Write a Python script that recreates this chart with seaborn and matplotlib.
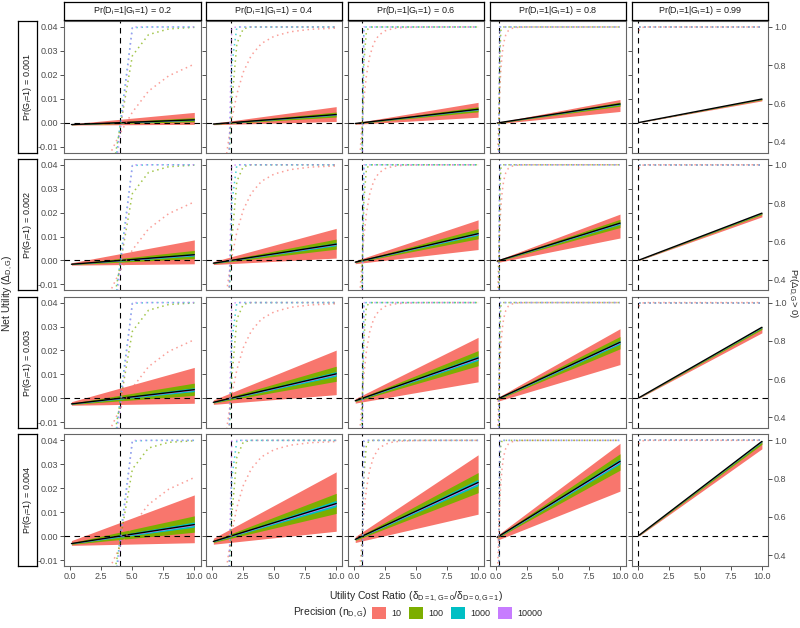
import matplotlib
matplotlib.use("Agg")
import matplotlib.pyplot as plt
from matplotlib.patches import Patch
import pandas as pd
import seaborn as sns

# facets
prevalence = [0.001, 0.002, 0.003, 0.004]          # rows: Pr(G=1)
sensitivity = [0.2, 0.4, 0.6, 0.8, 0.99]           # cols: Pr(D=1|G=1)
thresholds = [4.0, 1.5, 0.667, 0.25, 0.0101]       # break-even cost ratio per column
precisions = ["10", "100", "1000", "10000"]
colors = ["#F8766D", "#7CAE00", "#00BFC4", "#C77CFF"]

# utility cost ratio grid of the dotted curves
ratio = [0.1, 0.126, 0.158, 0.2, 0.251, 0.316, 0.398, 0.501, 0.631, 0.794, 1.0,
         1.259, 1.585, 1.995, 2.512, 3.162, 3.981, 5.012, 6.31, 7.943, 10.0]

# Pr(net utility > 0) (same in every row of a column)
prob_pos = {
    0.2: {
        "10": [0, 0, 0, 0, 0, 0, 0, 0, 0.001, 0.005, 0.02, 0.04, 0.08, 0.14, 0.22, 0.33, 0.44, 0.555, 0.665, 0.745, 0.806],
        "100": [0, 0, 0, 0, 0, 0, 0, 0, 0, 0, 0, 0, 0, 0, 0.02, 0.16, 0.46, 0.85, 0.96, 0.99, 0.998],
        "1000": [0, 0, 0, 0, 0, 0, 0, 0, 0, 0, 0, 0, 0, 0, 0, 0.001, 0.47, 0.996, 1, 1, 1],
        "10000": [0, 0, 0, 0, 0, 0, 0, 0, 0, 0, 0, 0, 0, 0, 0, 0, 0.42, 1, 1, 1, 1],
    },
    0.4: {
        "10": [0, 0, 0, 0.001, 0.003, 0.008, 0.02, 0.043, 0.085, 0.155, 0.254, 0.378, 0.516, 0.649, 0.764, 0.852, 0.914, 0.952, 0.975, 0.988, 0.994],
        "100": [0, 0, 0, 0, 0, 0, 0, 0, 0, 0.001, 0.02, 0.19, 0.605, 0.913, 0.991, 1, 1, 1, 1, 1, 1],
        "1000": [0, 0, 0, 0, 0, 0, 0, 0, 0, 0, 0, 0.003, 0.80, 1, 1, 1, 1, 1, 1, 1, 1],
        "10000": [0, 0, 0, 0, 0, 0, 0, 0, 0, 0, 0, 0, 0.996, 1, 1, 1, 1, 1, 1, 1, 1],
    },
    0.6: {
        "10": [0.006, 0.012, 0.025, 0.048, 0.086, 0.148, 0.236, 0.351, 0.484, 0.622, 0.746, 0.845, 0.915, 0.957, 0.98, 0.992, 0.997, 0.999, 1, 1, 1],
        "100": [0, 0, 0, 0, 0, 0, 0.009, 0.087, 0.395, 0.81, 0.98, 0.999, 1, 1, 1, 1, 1, 1, 1, 1, 1],
        "1000": [0, 0, 0, 0, 0, 0, 0, 0, 0.20, 0.997, 1, 1, 1, 1, 1, 1, 1, 1, 1, 1, 1],
        "10000": [0, 0, 0, 0, 0, 0, 0, 0, 0.004, 1, 1, 1, 1, 1, 1, 1, 1, 1, 1, 1, 1],
    },
    0.8: {
        "10": [0.194, 0.267, 0.354, 0.456, 0.566, 0.676, 0.776, 0.858, 0.918, 0.958, 0.981, 0.992, 0.997, 0.999, 1, 1, 1, 1, 1, 1, 1],
        "100": [0.002, 0.01, 0.045, 0.18, 0.53, 0.84, 0.98, 0.999, 1, 1, 1, 1, 1, 1, 1, 1, 1, 1, 1, 1, 1],
        "1000": [0, 0, 0, 0.004, 0.525, 1, 1, 1, 1, 1, 1, 1, 1, 1, 1, 1, 1, 1, 1, 1, 1],
        "10000": [0, 0, 0, 0, 0.58, 1, 1, 1, 1, 1, 1, 1, 1, 1, 1, 1, 1, 1, 1, 1, 1],
    },
    0.99: {
        "10": [0.98, 0.985, 0.99, 0.993, 0.995, 0.997, 0.998, 0.999, 1, 1, 1, 1, 1, 1, 1, 1, 1, 1, 1, 1, 1],
        "100": [1, 1, 1, 1, 1, 1, 1, 1, 1, 1, 1, 1, 1, 1, 1, 1, 1, 1, 1, 1, 1],
        "1000": [1, 1, 1, 1, 1, 1, 1, 1, 1, 1, 1, 1, 1, 1, 1, 1, 1, 1, 1, 1, 1],
        "10000": [1, 1, 1, 1, 1, 1, 1, 1, 1, 1, 1, 1, 1, 1, 1, 1, 1, 1, 1, 1, 1],
    },
}

# 95% bands of Pr(D=1|G=1) behind the ribbons, one value per column
sens_lo = {"10": [0.028, 0.137, 0.299, 0.518, 0.920],
           "100": [0.128, 0.306, 0.503, 0.717, 0.963],
           "1000": [0.176, 0.370, 0.570, 0.775, 0.984],
           "10000": [0.192, 0.390, 0.590, 0.792, 0.988]}
sens_hi = {"10": [0.482, 0.701, 0.863, 0.972, 1.000],
           "100": [0.283, 0.497, 0.694, 0.873, 1.000],
           "1000": [0.225, 0.430, 0.630, 0.824, 0.996],
           "10000": [0.208, 0.410, 0.610, 0.808, 0.992]}

x_ends = [ratio[0], ratio[-1]]
ylim = (-0.0125, 0.0425)
ylim2 = (0.5 + 12.5 * ylim[0], 0.5 + 12.5 * ylim[1])


def net_utility(prev, s, x):
    return prev * (s * (x + 1) - 1)


rows = []
for s, curves in prob_pos.items():
    for n, vals in curves.items():
        for x, p in zip(ratio, vals):
            rows.append({"sens": s, "precision": n, "ratio": x, "prob": p})
prob_df = pd.DataFrame(rows)

sns.set_theme(style="white")
plt.rcParams["font.family"] = ["Liberation Sans", "DejaVu Sans"]
plt.rcParams["mathtext.fontset"] = "custom"
plt.rcParams["mathtext.rm"] = "Liberation Sans"
plt.rcParams["mathtext.it"] = "Liberation Sans:italic"
plt.rcParams["mathtext.default"] = "regular"
plt.rcParams["axes.unicode_minus"] = False

W, H = 800, 628


def box(left, top, w, h):
    return [left / W, 1 - (top + h) / H, w / W, h / H]


fig = plt.figure(figsize=(8, 6.28), dpi=100)
dash = (0, (5, 4))
dots = (0, (1, 2.4))
tick_kw = dict(direction="out", length=3, width=0.6, color="#333333",
               labelsize=6.5, labelcolor="#4D4D4D", pad=1.2)

for r, prev in enumerate(prevalence):
    for c, s in enumerate(sensitivity):
        left = 64 + 141.9 * c
        top = 21 + 137.8 * r
        ax = fig.add_axes(box(left, top, 136.5, 131.6))
        for k, n in enumerate(precisions):
            lo = [net_utility(prev, sens_lo[n][c], x) for x in x_ends]
            hi = [net_utility(prev, sens_hi[n][c], x) for x in x_ends]
            ax.fill_between(x_ends, lo, hi, color=colors[k], lw=0, zorder=1)
        mean = [net_utility(prev, s, x) for x in x_ends]
        sns.lineplot(x=x_ends, y=mean, color="black", lw=1.0, ax=ax, zorder=3)
        ax.axhline(0, color="black", lw=0.8, ls=dash, zorder=4)
        ax.axvline(thresholds[c], color="black", lw=0.8, ls=dash, zorder=4)
        ax.set_xlim(-0.5, 10.5)
        ax.set_ylim(*ylim)
        ax.set_xticks([0, 2.5, 5, 7.5, 10])
        ax.set_yticks([-0.01, 0, 0.01, 0.02, 0.03, 0.04])
        ax.set_xlabel("")
        ax.set_ylabel("")
        ax.tick_params(**tick_kw)
        ax.tick_params(left=(c == 0), labelleft=(c == 0),
                       bottom=(r == 3), labelbottom=(r == 3))
        for sp in ax.spines.values():
            sp.set_color("#666666")
            sp.set_linewidth(0.8)

        ax2 = ax.twinx()
        sns.lineplot(data=prob_df[prob_df["sens"] == s], x="ratio", y="prob",
                     hue="precision", hue_order=precisions,
                     palette=dict(zip(precisions, colors)), estimator=None,
                     legend=False, ax=ax2, lw=1.1, linestyle=dots, alpha=0.7)
        ax2.set_ylim(*ylim2)
        ax2.set_xlim(-0.5, 10.5)
        ax2.set_yticks([0.4, 0.6, 0.8, 1.0])
        ax2.set_ylabel("")
        ax2.set_xlabel("")
        ax2.tick_params(**tick_kw)
        ax2.tick_params(right=(c == 4), labelright=(c == 4))
        for sp in ax2.spines.values():
            sp.set_visible(False)

# column strips
for c, s in enumerate(sensitivity):
    sax = fig.add_axes(box(64 + 141.9 * c, 1.7, 136.5, 18.3))
    sax.set_xticks([])
    sax.set_yticks([])
    sax.set_facecolor("white")
    for sp in sax.spines.values():
        sp.set_color("black")
        sp.set_linewidth(0.9)
    sax.text(0.5, 0.5, rf"Pr(D$_i$=1|G$_i$=1) = {s:g}", ha="center", va="center",
             fontsize=6.5, color="#1A1A1A", transform=sax.transAxes)

# row strips
for r, prev in enumerate(prevalence):
    sax = fig.add_axes(box(18.3, 21 + 137.8 * r, 18.4, 131.6))
    sax.set_xticks([])
    sax.set_yticks([])
    sax.set_facecolor("white")
    for sp in sax.spines.values():
        sp.set_color("black")
        sp.set_linewidth(0.9)
    sax.text(0.5, 0.5, rf"Pr(G$_i$=1) = {prev:g}", ha="center", va="center",
             rotation=90, fontsize=6.5, color="#1A1A1A", transform=sax.transAxes)

fig.text(8 / W, 1 - 293.5 / H, r"Net Utility (Δ$_{D,G}$)", rotation=90,
         ha="center", va="center", fontsize=7.5)
fig.text(792.3 / W, 1 - 293.5 / H, r"Pr(Δ$_{D,G}$> 0)", rotation=270,
         ha="center", va="center", fontsize=6.8)
fig.text(416 / W, 1 - 597 / H, r"Utility Cost Ratio (δ$_{D=1,G=0}$/δ$_{D=0,G=1}$)",
         ha="center", va="center", fontsize=7.5)

fig.text(367 / W, 1 - 613 / H, r"Precision (n$_{D,G}$)", ha="right", va="center",
         fontsize=7.5)
handles = [Patch(facecolor=col, edgecolor="none") for col in colors]
fig.legend(handles, precisions, ncol=4, loc="center left",
           bbox_to_anchor=(372 / W, 1 - 613 / H), frameon=False,
           handlelength=1.5, handleheight=1.8, handletextpad=0.6,
           columnspacing=0.9, fontsize=6.5, borderaxespad=0, borderpad=0)

fig.savefig("out.png", dpi=100)
